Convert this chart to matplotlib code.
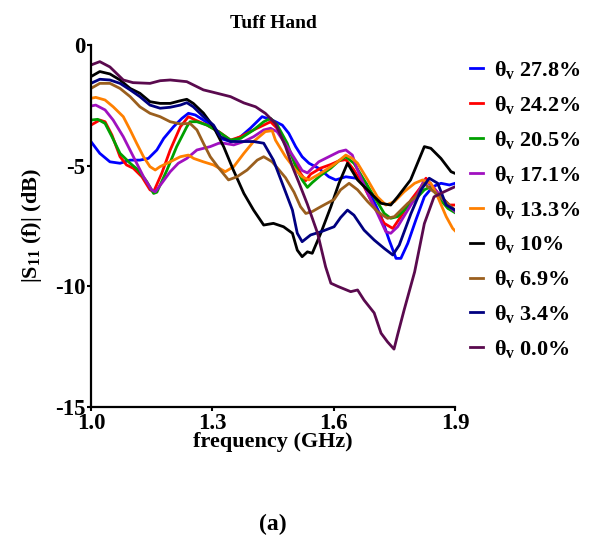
import matplotlib
matplotlib.use("Agg")
import matplotlib.pyplot as plt

plt.rcParams['font.family'] = ['Liberation Serif', 'DejaVu Serif']
plt.rcParams['font.weight'] = 'bold'
plt.rcParams['mathtext.fontset'] = 'custom'
plt.rcParams['mathtext.rm'] = 'Liberation Serif:bold'
plt.rcParams['mathtext.it'] = 'Liberation Serif:bold'
plt.rcParams['mathtext.bf'] = 'Liberation Serif:bold'
plt.rcParams['axes.unicode_minus'] = False

# soil moisture levels, top of legend first
labels = ['27.8%', '24.2%', '20.5%', '17.1%', '13.3%', '10%', '6.9%', '3.4%', '0.0%']
colors = ['#0000ff', '#ff0000', '#00a000', '#a010c0', '#ff8000', '#000000',
          '#9a5f1e', '#000080', '#5a0a4e']

f_278 = [1.0, 1.022, 1.047, 1.072, 1.097, 1.121, 1.142, 1.163, 1.18, 1.204, 1.225, 1.241,
         1.258, 1.278, 1.303, 1.32, 1.345, 1.37, 1.394, 1.423, 1.448, 1.473, 1.489, 1.506,
         1.522, 1.539, 1.563, 1.588, 1.605, 1.63, 1.655, 1.68, 1.70, 1.717, 1.737, 1.754,
         1.766, 1.783, 1.803, 1.824, 1.845, 1.865, 1.886, 1.90]
s_278 = [-4.0, -4.49, -4.84, -4.9, -4.77, -4.77, -4.7, -4.35, -3.87, -3.39, -3.04, -2.83,
         -2.9, -3.11, -3.39, -3.87, -4.0, -3.8, -3.45, -2.97, -3.11, -3.32, -3.66, -4.21,
         -4.63, -4.9, -5.11, -5.46, -5.59, -5.46, -5.52, -5.73, -6.5, -7.11, -8.08, -8.84,
         -8.84, -8.22, -7.25, -6.29, -5.87, -5.73, -5.8, -5.73]

f_242 = [1.0, 1.022, 1.035, 1.052, 1.072, 1.088, 1.105, 1.126, 1.146, 1.155, 1.175, 1.196,
         1.221, 1.241, 1.258, 1.287, 1.316, 1.345, 1.37, 1.402, 1.427, 1.444, 1.46, 1.485,
         1.506, 1.518, 1.531, 1.543, 1.568, 1.593, 1.613, 1.63, 1.65, 1.675, 1.70, 1.725,
         1.746, 1.766, 1.791, 1.816, 1.828, 1.845, 1.865, 1.886, 1.90]
s_242 = [-3.32, -3.11, -3.18, -3.73, -4.63, -4.97, -5.11, -5.46, -6.0, -6.08, -5.32, -4.35,
         -3.39, -2.97, -3.11, -3.32, -3.59, -3.94, -3.8, -3.52, -3.32, -3.18, -3.45, -4.21,
         -4.9, -5.32, -5.62, -5.35, -5.1, -4.95, -4.8, -4.75, -5.18, -5.87, -6.7, -7.39,
         -7.6, -7.11, -6.42, -5.87, -5.52, -5.87, -6.29, -6.63, -6.63]

f_205 = [1.0, 1.017, 1.035, 1.052, 1.072, 1.097, 1.117, 1.138, 1.155, 1.163, 1.188, 1.212,
         1.237, 1.245, 1.262, 1.287, 1.316, 1.345, 1.37, 1.402, 1.427, 1.444, 1.46, 1.485,
         1.506, 1.522, 1.535, 1.547, 1.568, 1.593, 1.613, 1.63, 1.65, 1.675, 1.70, 1.725,
         1.741, 1.758, 1.783, 1.808, 1.824, 1.84, 1.861, 1.882, 1.90]
s_205 = [-3.11, -3.08, -3.25, -3.8, -4.49, -4.9, -5.18, -5.66, -6.15, -6.1, -5.18, -4.21,
         -3.39, -3.18, -3.18, -3.32, -3.6, -3.94, -3.87, -3.52, -3.18, -3.04, -3.3, -4.07,
         -5.04, -5.59, -5.9, -5.7, -5.4, -5.1, -4.8, -4.63, -4.9, -5.59, -6.29, -6.98,
         -7.18, -7.11, -6.7, -6.29, -6.0, -5.87, -6.36, -6.77, -6.95]

f_171 = [1.0, 1.012, 1.035, 1.055, 1.08, 1.105, 1.13, 1.15, 1.159, 1.175, 1.196, 1.216,
         1.237, 1.262, 1.295, 1.316, 1.328, 1.353, 1.378, 1.402, 1.427, 1.444, 1.46, 1.485,
         1.506, 1.522, 1.535, 1.563, 1.588, 1.613, 1.63, 1.646, 1.659, 1.684, 1.708, 1.729,
         1.741, 1.758, 1.783, 1.808, 1.824, 1.845, 1.865, 1.886, 1.90]
s_171 = [-2.53, -2.49, -2.69, -3.11, -3.8, -4.63, -5.46, -6.0, -6.08, -5.73, -5.25, -4.9,
         -4.7, -4.35, -4.21, -4.07, -4.07, -4.14, -4.0, -3.8, -3.52, -3.45, -3.59, -4.21,
         -4.77, -5.2, -5.3, -4.84, -4.63, -4.42, -4.35, -4.56, -5.18, -6.15, -6.98, -7.74,
         -7.8, -7.53, -6.84, -6.15, -5.59, -5.87, -6.29, -6.7, -6.9]

f_133 = [1.0, 1.012, 1.035, 1.055, 1.08, 1.097, 1.113, 1.13, 1.146, 1.159, 1.171, 1.196,
         1.221, 1.241, 1.254, 1.278, 1.303, 1.332, 1.353, 1.378, 1.402, 1.431, 1.448, 1.456,
         1.481, 1.506, 1.522, 1.539, 1.56, 1.58, 1.605, 1.63, 1.646, 1.659, 1.684, 1.708,
         1.729, 1.75, 1.774, 1.80, 1.82, 1.84, 1.857, 1.878, 1.894, 1.90]
s_133 = [-2.21, -2.17, -2.28, -2.56, -2.97, -3.52, -4.07, -4.63, -5.04, -5.18, -5.04, -4.84,
         -4.63, -4.56, -4.7, -4.84, -4.97, -5.25, -5.04, -4.49, -4.0, -3.59, -3.55, -3.94,
         -4.63, -5.18, -5.46, -5.59, -5.39, -5.18, -4.9, -4.56, -4.7, -4.9, -5.59, -6.29,
         -6.63, -6.49, -6.08, -5.73, -5.59, -5.73, -6.29, -7.11, -7.6, -7.7]

f_100 = [1.0, 1.022, 1.047, 1.072, 1.097, 1.121, 1.146, 1.171, 1.196, 1.221, 1.237, 1.253,
         1.278, 1.303, 1.328, 1.352, 1.378, 1.402, 1.427, 1.451, 1.476, 1.498, 1.51, 1.522,
         1.535, 1.547, 1.568, 1.593, 1.613, 1.634, 1.659, 1.692, 1.717, 1.741, 1.758, 1.79,
         1.824, 1.84, 1.865, 1.89, 1.90]
s_100 = [-1.31, -1.1, -1.2, -1.45, -1.8, -2.0, -2.35, -2.42, -2.42, -2.31, -2.25, -2.42,
         -2.82, -3.39, -4.21, -5.18, -6.15, -6.84, -7.46, -7.39, -7.53, -7.8, -8.5, -8.77,
         -8.57, -8.63, -7.8, -6.7, -5.73, -4.9, -5.59, -6.15, -6.56, -6.63, -6.29, -5.59,
         -4.21, -4.28, -4.7, -5.25, -5.32]

f_069 = [1.0, 1.022, 1.047, 1.072, 1.097, 1.121, 1.146, 1.171, 1.196, 1.221, 1.245, 1.262,
         1.278, 1.295, 1.316, 1.34, 1.361, 1.386, 1.411, 1.427, 1.448, 1.481, 1.502, 1.518,
         1.531, 1.547, 1.568, 1.601, 1.617, 1.638, 1.659, 1.684, 1.708, 1.733, 1.75, 1.783,
         1.808, 1.824, 1.841, 1.865, 1.89, 1.90]
s_069 = [-1.8, -1.59, -1.59, -1.8, -2.14, -2.56, -2.83, -2.97, -3.18, -3.27, -3.25, -3.52,
         -4.07, -4.63, -5.1, -5.59, -5.46, -5.18, -4.77, -4.63, -4.84, -5.5, -6.1, -6.7,
         -6.98, -6.9, -6.7, -6.4, -6.0, -5.73, -6.0, -6.49, -6.9, -7.18, -7.11, -6.56,
         -6.22, -5.73, -6.0, -6.29, -6.7, -6.84]

f_034 = [1.0, 1.022, 1.047, 1.072, 1.097, 1.121, 1.146, 1.171, 1.196, 1.221, 1.237, 1.253,
         1.278, 1.303, 1.32, 1.345, 1.37, 1.402, 1.427, 1.451, 1.476, 1.498, 1.51, 1.522,
         1.543, 1.568, 1.601, 1.617, 1.634, 1.65, 1.675, 1.70, 1.725, 1.746, 1.762, 1.791,
         1.816, 1.836, 1.857, 1.878, 1.90]
s_034 = [-1.59, -1.42, -1.45, -1.59, -1.86, -2.14, -2.49, -2.62, -2.58, -2.49, -2.39, -2.56,
         -2.97, -3.32, -3.8, -4.0, -4.0, -4.0, -4.07, -4.77, -5.87, -6.84, -7.8, -8.15,
         -7.87, -7.74, -7.53, -7.15, -6.84, -7.05, -7.67, -8.08, -8.43, -8.7, -8.29, -6.98,
         -6.0, -5.52, -5.73, -6.63, -6.84]

f_000 = [1.0, 1.022, 1.047, 1.08, 1.104, 1.146, 1.171, 1.196, 1.237, 1.278, 1.30, 1.345,
         1.378, 1.407, 1.431, 1.456, 1.481, 1.498, 1.514, 1.535, 1.56, 1.58, 1.593, 1.61,
         1.642, 1.659, 1.675, 1.70, 1.717, 1.733, 1.749, 1.758, 1.774, 1.80, 1.824, 1.848,
         1.873, 1.90]
s_000 = [-0.83, -0.69, -0.91, -1.45, -1.56, -1.59, -1.48, -1.45, -1.52, -1.86, -1.95, -2.14,
         -2.4, -2.56, -2.83, -3.25, -4.21, -5.04, -5.7, -6.6, -7.79, -9.19, -9.87, -10.0,
         -10.22, -10.15, -10.57, -11.1, -11.94, -12.3, -12.6, -12.0, -10.98, -9.4, -7.4, -6.29,
         -6.08, -5.87]

freqs = [f_278, f_242, f_205, f_171, f_133, f_100, f_069, f_034, f_000]
s11 = [s_278, s_242, s_205, s_171, s_133, s_100, s_069, s_034, s_000]

fig = plt.figure(figsize=(6.06, 5.42), dpi=100)
ax = fig.add_axes([0.150, 0.249, 0.601, 0.668])

for f, s, lab, c in zip(freqs, s11, labels, colors):
    ax.plot(f, s, color=c, lw=2.0, label=r'$\theta_{\rm v}$ ' + lab)

ax.set_xlim(1.0, 1.9)
ax.set_ylim(-15, 0)
ax.set_xticks([1.0, 1.3, 1.6, 1.9])
ax.set_yticks([0, -5, -10, -15])
ax.xaxis.set_major_formatter(matplotlib.ticker.FormatStrFormatter('%.1f'))
ax.spines['top'].set_visible(False)
ax.spines['right'].set_visible(False)
ax.spines['left'].set_linewidth(1.6)
ax.spines['bottom'].set_linewidth(1.6)
ax.tick_params(direction='out', length=3, width=1.5, labelsize=16.5, pad=1)

ax.set_title('Tuff Hand', fontsize=14, fontweight='bold', pad=12)
ax.set_xlabel('frequency (GHz)', fontsize=16, fontweight='bold', labelpad=-1)
ax.set_ylabel(r'|S$_{\rm 11}$ (f)| (dB)', fontsize=16, fontweight='bold', labelpad=8)

fig.legend(loc='upper left', bbox_to_anchor=(0.742, 0.928), frameon=False,
           handlelength=0.6, handletextpad=0.5, labelspacing=0.58,
           prop={'weight': 'bold', 'size': 16})

fig.text(0.451, 0.022, '(a)', fontsize=17, fontweight='bold', ha='center')

fig.savefig('out.png', dpi=100)
